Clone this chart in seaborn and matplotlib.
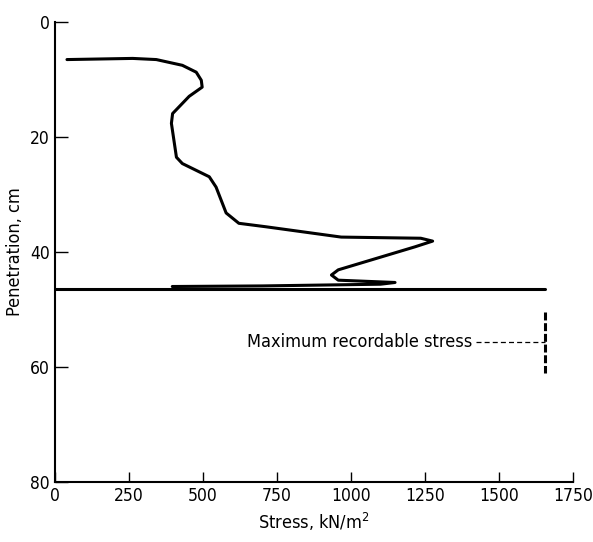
import pandas as pd
import matplotlib
matplotlib.use('Agg')
import matplotlib.pyplot as plt
import seaborn as sns

# stress vs penetration trace
stress = [40, 262, 342, 430, 477, 494, 497, 453, 397, 393, 410, 430, 521, 544, 578, 621,
          712, 967, 1236, 1276, 1216, 957, 934, 957, 1149, 1100, 700, 396]
penetration = [6.5, 6.3, 6.5, 7.5, 8.7, 10.1, 11.3, 12.9, 15.9, 17.6, 23.5, 24.6, 26.9, 28.7, 33.2, 35.0,
               35.6, 37.4, 37.6, 38.1, 39.1, 43.1, 44.0, 44.9, 45.3, 45.6, 45.9, 46.0]

# bottom plate line
plate_x = [0, 1656]
plate_y = [46.5, 46.5]

# maximum recordable stress marker
max_stress = 1656
max_y = [50.4, 61.0]
label_y = 55.6

xticks = [0, 250, 500, 750, 1000, 1250, 1500, 1750]
yticks = [0, 20, 40, 60, 80]

sns.set_style('ticks')
plt.rcParams['font.family'] = ['DejaVu Sans']
plt.rcParams['font.stretch'] = 'condensed'
plt.rcParams['text.color'] = 'black'
plt.rcParams['axes.labelcolor'] = 'black'

trace = pd.DataFrame({'Stress': stress, 'Penetration': penetration})

fig = plt.figure(figsize=(5.93, 5.42), dpi=100)
ax = fig.add_axes([0.093, 0.111, 0.873, 0.848])

sns.lineplot(data=trace, x='Stress', y='Penetration', sort=False, estimator=None,
             color='black', linewidth=2.2, ax=ax)
sns.lineplot(x=plate_x, y=plate_y, color='black', linewidth=2.2, ax=ax)

ax.plot([max_stress, max_stress], max_y, color='black', linewidth=2.2,
        linestyle=(0, (2.6, 0.9)))
ax.plot([1422, max_stress], [label_y, label_y], color='black', linewidth=0.9,
        linestyle=(0, (4, 2.5)))
ax.text(1410, label_y, 'Maximum recordable stress', ha='right', va='center',
        fontsize=13, fontstretch='condensed', color='black')

ax.set_xlim(0, 1750)
ax.set_ylim(80, 0)
ax.set_xticks(xticks)
ax.set_yticks(yticks)
ax.tick_params(axis='both', direction='in', labelsize=12.5, width=1, colors='black')
ax.tick_params(axis='y', length=9, pad=4)
ax.tick_params(axis='x', length=7, pad=4)

ax.set_xlabel('Stress, kN/m$^2$', fontsize=13, color='black')
ax.set_ylabel('Penetration, cm', fontsize=13, color='black')

sns.despine(ax=ax)
for s in ['left', 'bottom']:
    ax.spines[s].set_linewidth(1.5)
    ax.spines[s].set_color('black')

fig.savefig('out.png', dpi=100)
